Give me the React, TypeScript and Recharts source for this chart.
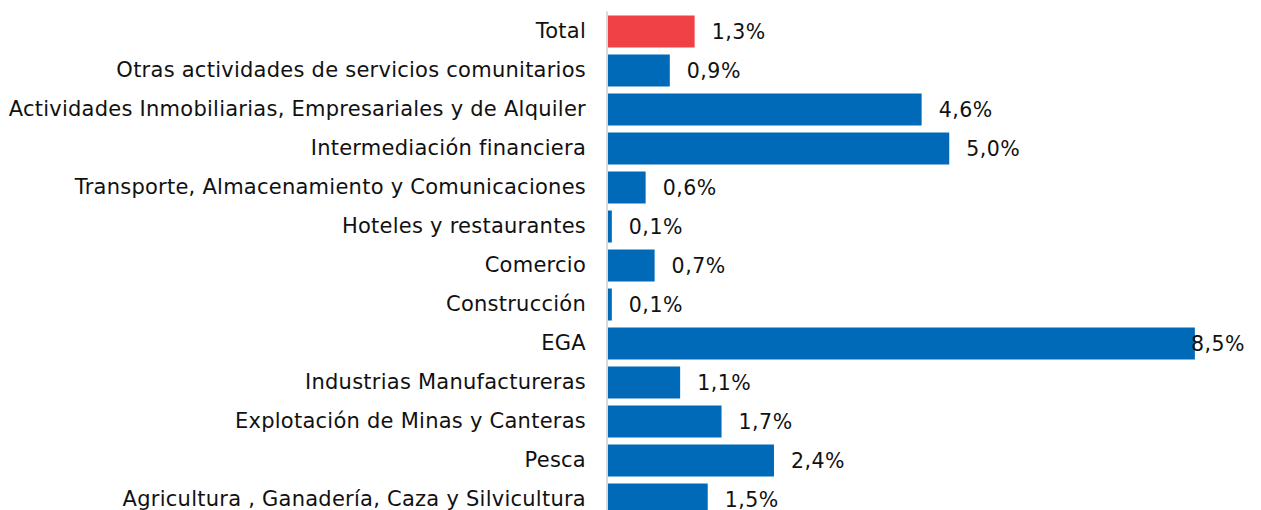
import React from "react";
import { BarChart, Bar, XAxis, YAxis, Cell, LabelList } from "recharts";

const categories = [
  "Total",
  "Otras actividades de servicios comunitarios",
  "Actividades Inmobiliarias, Empresariales y de Alquiler",
  "Intermediación financiera",
  "Transporte, Almacenamiento y Comunicaciones",
  "Hoteles y restaurantes",
  "Comercio",
  "Construcción",
  "EGA",
  "Industrias Manufactureras",
  "Explotación de Minas y Canteras",
  "Pesca",
  "Agricultura , Ganadería, Caza y Silvicultura",
];

const values = [1.27, 0.91, 4.56, 4.96, 0.56, 0.07, 0.69, 0.07, 8.52, 1.06, 1.66, 2.42, 1.46];

const highlight = ["Total"];

const BLUE = "#006AB8";
const RED = "#EF4146";
const FONT = "'DejaVu Sans', Verdana, sans-serif";

const data = categories.map((name, i) => ({ name, value: values[i] }));

const fmt = (v: number) => v.toFixed(1).replace(".", ",") + "%";

const ValueLabel = (props: any) => {
  const { x, y, width, height, value } = props;
  const end = Number(x) + Number(width);
  const overflow = end + 17 + 56 > 1255;
  const tx = overflow ? end - 4 : end + 17;
  return (
    <text
      x={tx}
      y={Number(y) + Number(height) / 2}
      dominantBaseline="central"
      fontFamily={FONT}
      fontSize={20.5}
      letterSpacing={0.5}
      fill="#111"
    >
      {fmt(Number(value))}
    </text>
  );
};

export default function App() {
  return (
    <div style={{ width: 1261, height: 510, overflow: "hidden", background: "#fff" }}>
      <style>{`body{margin:0;overflow:hidden;}`}</style>
      <BarChart
        width={1261}
        height={527}
        data={data}
        layout="vertical"
        margin={{ top: 11.5, right: 33, bottom: 8.5, left: 0 }}
        barCategoryGap={0}
      >
        <XAxis type="number" domain={[0, 9]} hide />
        <YAxis
          type="category"
          dataKey="name"
          width={607}
          tickLine={false}
          tickSize={0}
          tickMargin={21}
          axisLine={{ stroke: "#D9D9D9", strokeWidth: 2 }}
          tick={{ fontFamily: FONT, fontSize: 21, fill: "#111", letterSpacing: 0.25 }}
          interval={0}
        />
        <Bar dataKey="value" barSize={32} isAnimationActive={false}>
          {data.map((d, i) => (
            <Cell key={i} fill={highlight.includes(d.name) ? RED : BLUE} />
          ))}
          <LabelList dataKey="value" content={ValueLabel} />
        </Bar>
      </BarChart>
    </div>
  );
}
